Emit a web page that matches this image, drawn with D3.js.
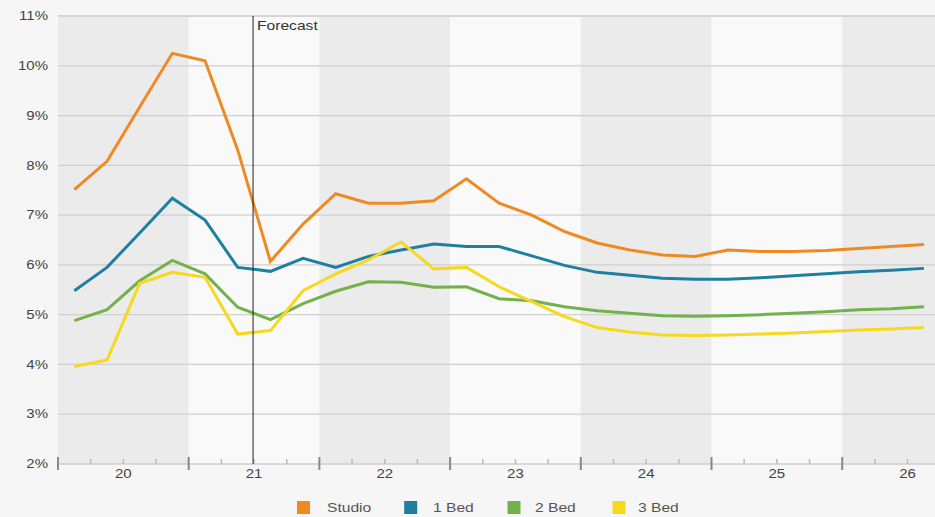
<!DOCTYPE html>
<html><head><meta charset="utf-8">
<script src="https://cdn.jsdelivr.net/npm/d3@7"></script>
<style>
html,body{margin:0;padding:0;background:#f6f6f6;}
svg{display:block;font-family:"Liberation Sans",Arial,sans-serif;}
</style></head>
<body><svg id="c" width="935" height="517"></svg>
<script>
const years = ["20","21","22","23","24","25","26"];
const seriesNames = ["Studio","1 Bed","2 Bed","3 Bed"];
const seriesColors = ["#ef8a22","#1f7fa1","#73b14b","#f6d91f"];
const studio = [7.51,8.08,9.17,10.25,10.10,8.31,6.07,6.82,7.43,7.24,7.24,7.29,7.73,7.24,7.00,6.67,6.44,6.30,6.20,6.17,6.30,6.27,6.27,6.29,6.33,6.37,6.41];
const bed1 = [5.48,5.95,6.64,7.34,6.90,5.95,5.87,6.13,5.95,6.17,6.30,6.42,6.37,6.37,6.18,5.99,5.85,5.79,5.73,5.71,5.71,5.74,5.78,5.82,5.86,5.89,5.93];
const bed2 = [4.88,5.10,5.68,6.09,5.82,5.15,4.90,5.22,5.47,5.66,5.65,5.55,5.56,5.32,5.28,5.16,5.08,5.03,4.98,4.97,4.98,5.00,5.03,5.06,5.10,5.12,5.16];
const bed3 = [3.96,4.09,5.63,5.85,5.75,4.61,4.68,5.48,5.82,6.10,6.46,5.92,5.95,5.56,5.26,4.96,4.74,4.65,4.59,4.58,4.59,4.61,4.63,4.66,4.69,4.71,4.74];
const yTicks = [2,3,4,5,6,7,8,9,10,11];
const forecastAt = 6; // quarter index: middle of year 21
const forecastLabel = "Forecast";

const allSeries = [studio,bed1,bed2,bed3];
const svg = d3.select("#c");
const mLeft = 58, mTop = 16, mBottom = 464;
const qW = 130.7/4;
const SX = 1.25; // horizontal text stretch seen in the reference
const x = d3.scaleLinear().domain([0, years.length*4]).range([mLeft, mLeft + years.length*4*qW]);
const y = d3.scaleLinear().domain([2,11]).range([mBottom, mTop]);

// bands
svg.append("g").selectAll("rect").data(years).join("rect")
  .attr("x",(d,i)=>x(i*4)).attr("y",mTop)
  .attr("width",x(4)-x(0)).attr("height",mBottom-mTop)
  .attr("fill",(d,i)=> i%2===0 ? "#ebebeb" : "#f9f9f9");

// gridlines
svg.append("g").selectAll("line").data(yTicks.filter(t=>t>2)).join("line")
  .attr("x1",mLeft).attr("x2",935).attr("y1",d=>y(d)).attr("y2",d=>y(d))
  .attr("stroke",d=>d===11?"#d4d4d4":"#cfcfcf").attr("stroke-width",d=>d===11?2:1.3);

// y labels
svg.append("g").selectAll("text").data(yTicks).join("text")
  .attr("transform",d=>`translate(48,${y(d)}) scale(${SX},1)`)
  .attr("dy","0.35em").attr("text-anchor","end")
  .attr("font-size",12).attr("fill","#444").text(d=>d+"%");

// x axis line
svg.append("line").attr("x1",mLeft).attr("x2",935).attr("y1",mBottom).attr("y2",mBottom)
  .attr("stroke","#cfcfcf").attr("stroke-width",1.5);
// ticks
const quarterTicks = d3.range(0, years.length*4+1);
svg.append("g").selectAll("line").data(quarterTicks).join("line")
  .attr("x1",d=>x(d)).attr("x2",d=>x(d))
  .attr("y1",d=>d%4===0?457:459).attr("y2",d=>d%4===0?470:464)
  .attr("stroke",d=>d%4===0?"#888":"#bbb").attr("stroke-width",d=>d%4===0?2:1.5);
svg.append("g").selectAll("text").data(years).join("text")
  .attr("transform",(d,i)=>`translate(${x(i*4+2)},474) scale(${SX},1)`)
  .attr("dy","0.35em")
  .attr("text-anchor","middle").attr("font-size",12).attr("fill","#444").text(d=>d);

// lines
const line = d3.line().x((d,i)=>x(i+0.5)).y(d=>y(d));
svg.append("g").selectAll("path").data(allSeries).join("path")
  .attr("d",line).attr("fill","none")
  .attr("stroke",(d,i)=>seriesColors[i]).attr("stroke-width",3)
  .attr("stroke-linejoin","miter");

// forecast line
svg.append("line").attr("x1",x(forecastAt)-1).attr("x2",x(forecastAt)-1)
  .attr("y1",mTop).attr("y2",mBottom).attr("stroke","#222").attr("stroke-width",1);
svg.append("text").attr("transform",`translate(${x(forecastAt)+3},26) scale(${SX},1)`)
  .attr("dy","0.35em")
  .attr("font-size",12.5).attr("fill","#333").text(forecastLabel);

// legend
const legSq = [303.5,410.7,514,619];
const legTx = [327,433,535,638];
const lg = svg.append("g").selectAll("g").data(seriesNames).join("g");
lg.append("rect").attr("x",(d,i)=>legSq[i]-6.5).attr("y",501).attr("width",13).attr("height",13)
  .attr("fill",(d,i)=>seriesColors[i]);
lg.append("text").attr("transform",(d,i)=>`translate(${legTx[i]},507.5) scale(${SX},1)`)
  .attr("dy","0.35em").attr("font-size",12.5)
  .attr("fill","#555").text(d=>d);
</script></body></html>
